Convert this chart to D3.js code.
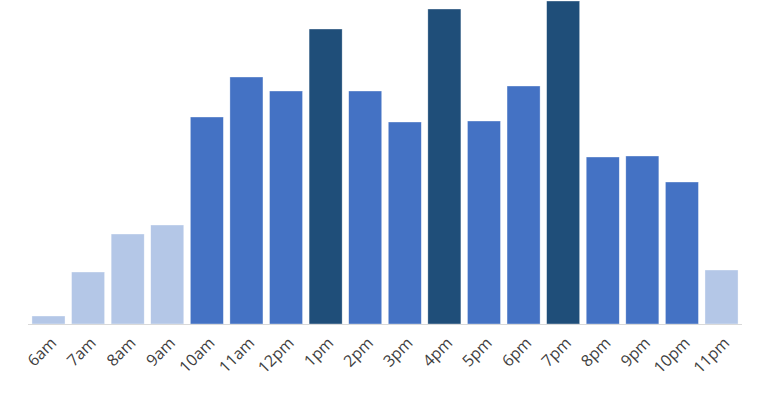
<!DOCTYPE html>
<html>
  <head>
    <meta charset="utf-8">
    <script src="https://d3js.org/d3.v7.min.js"></script>
    <style>
      body { margin: 0; background: #fff; }
      .tick-label { font-family: "Open Sans", "Noto Sans", sans-serif; font-size: 16px; fill: #404040; }
    </style>
  </head>
  <body>
    <svg width="765" height="400"></svg>
    <script>

    // hours of the day
    var hours = ["6am","7am","8am","9am","10am","11am","12pm","1pm","2pm","3pm","4pm","5pm","6pm","7pm","8pm","9pm","10pm","11pm"];
    // bar values
    var counts = [8, 52, 90, 99, 207, 247, 233, 295, 233, 202, 315, 203, 238, 323, 167, 168, 142, 54];
    // colour tier per bar: 0 light, 1 medium, 2 dark
    var tiers = [0, 0, 0, 0, 1, 1, 1, 2, 1, 1, 2, 1, 1, 2, 1, 1, 1, 0];
    var tierColors = ["#b4c7e7", "#4472c4", "#1f4e79"];

    var svg = d3.select("svg");
    var baseline = 324;

    var x = d3.scaleBand()
        .domain(hours)
        .range([28, 742])
        .paddingInner(0.165)
        .paddingOuter(0.1);

    var y = d3.scaleLinear()
        .domain([0, d3.max(counts)])
        .range([baseline, 1]);

    // bars
    svg.append("g")
      .selectAll("rect")
      .data(hours)
      .enter()
      .append("rect")
        .attr("x", function(d) { return x(d); })
        .attr("y", function(d, i) { return y(counts[i]); })
        .attr("width", x.bandwidth())
        .attr("height", function(d, i) { return baseline - y(counts[i]); })
        .attr("fill", function(d, i) { return tierColors[tiers[i]]; })
        .attr("stroke", "#ffffff")
        .attr("stroke-opacity", 0.6)
        .attr("stroke-width", 0.6);

    // baseline
    svg.append("line")
        .attr("x1", 28).attr("x2", 742)
        .attr("y1", baseline + 0.5).attr("y2", baseline + 0.5)
        .attr("stroke", "#d9d9d9")
        .attr("stroke-width", 1);

    // rotated hour labels
    svg.append("g")
      .selectAll("text")
      .data(hours)
      .enter()
      .append("text")
        .attr("class", "tick-label")
        .attr("text-anchor", "end")
        .attr("transform", function(d) {
          return "translate(" + (x(d) + x.bandwidth() / 2 + 5) + "," + (baseline + 16) + ") rotate(-45)";
        })
        .attr("dy", "0.35em")
        .text(function(d) { return d; });

    </script>
  </body>
</html>
